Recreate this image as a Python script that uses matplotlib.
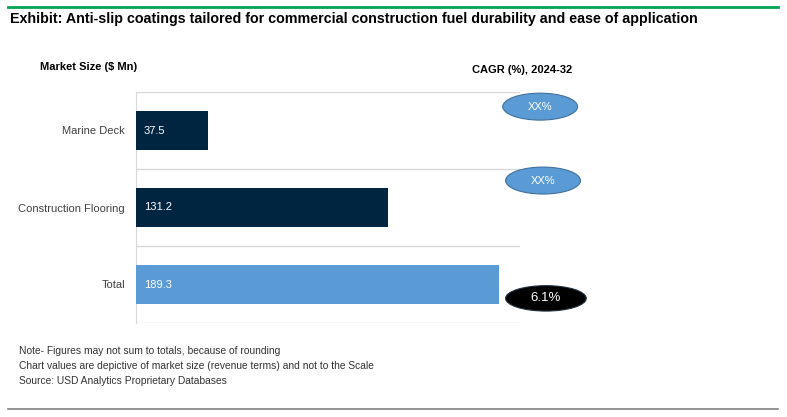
import matplotlib.pyplot as plt
from matplotlib.patches import Ellipse
from matplotlib.lines import Line2D

categories = ["Marine Deck", "Construction Flooring", "Total"]
values = [37.5, 131.2, 189.3]
cagr_labels = ["XX%", "XX%", "6.1%"]

title = "Exhibit: Anti-slip coatings tailored for commercial construction fuel durability and ease of application"
notes = [
    "Note- Figures may not sum to totals, because of rounding",
    "Chart values are depictive of market size (revenue terms) and not to the Scale",
    "Source: USD Analytics Proprietary Databases",
]

navy = "#002540"
light_blue = "#5B9BD5"
bar_colors = [navy, navy, light_blue]

plt.rcParams["font.family"] = ["Liberation Sans", "DejaVu Sans"]

W, H = 787, 417
fig = plt.figure(figsize=(W / 100, H / 100), dpi=100)


def fx(px):
    return px / W


def fy(py):
    return 1 - py / H


# plot area in pixels: x 136..520, y 92..323
ax = fig.add_axes([fx(136), fy(323), fx(520) - fx(136), fy(92) - fy(323)])
ypos = list(range(len(categories)))
ax.barh(ypos, values, height=0.5, color=bar_colors, zorder=3)
ax.set_ylim(len(categories) - 0.5, -0.5)
ax.set_xlim(0, 200)
ax.set_yticks(ypos)
ax.set_yticklabels(categories, fontsize=8, color="#404040")
ax.tick_params(axis="y", length=0, pad=8)
ax.set_xticks([])
for b in [-0.5, 0.5, 1.5, 2.5]:
    ax.axhline(b, color="#d9d9d9", lw=1, zorder=1)
for s in ["top", "right", "bottom"]:
    ax.spines[s].set_visible(False)
ax.spines["left"].set_color("#d9d9d9")

for i, v in enumerate(values):
    ax.text(4, i, f"{v}", color="white", va="center", ha="left", fontsize=8, zorder=4)

# CAGR ellipses
ell_x = [210.5, 212, 213.5]
ell_y = [-0.31, 0.65, 2.18]
for i, lab in enumerate(cagr_labels):
    if i < 2:
        fc, ec, w, h, fs = light_blue, "#41719C", 39, 0.35, 8
    else:
        fc, ec, w, h, fs = "black", "#1f3040", 42, 0.33, 9.5
    e = Ellipse((ell_x[i], ell_y[i]), w, h, facecolor=fc, edgecolor=ec, lw=0.8,
                clip_on=False, zorder=5)
    ax.add_patch(e)
    ax.text(ell_x[i], ell_y[i], lab, color="white", ha="center", va="center",
            fontsize=fs, zorder=6, clip_on=False)

# lines, title, headers, notes
fig.add_artist(Line2D([fx(8), fx(778)], [fy(7), fy(7)], color="#00A651", lw=2))
fig.add_artist(Line2D([fx(8), fx(778)], [fy(409), fy(409)], color="#808080", lw=1.2))
fig.text(fx(10), fy(19), title, fontsize=10.3, fontweight="bold", va="center", ha="left")
fig.text(fx(40), fy(67), "Market Size ($ Mn)", fontsize=8, fontweight="bold", va="center")
fig.text(fx(472), fy(70), "CAGR (%), 2024-32", fontsize=8, fontweight="bold", va="center")
for k, n in enumerate(notes):
    fig.text(fx(19), fy(351 + 15 * k), n, fontsize=7.4, color="#333333", va="center")

fig.savefig("out.png", dpi=100)
